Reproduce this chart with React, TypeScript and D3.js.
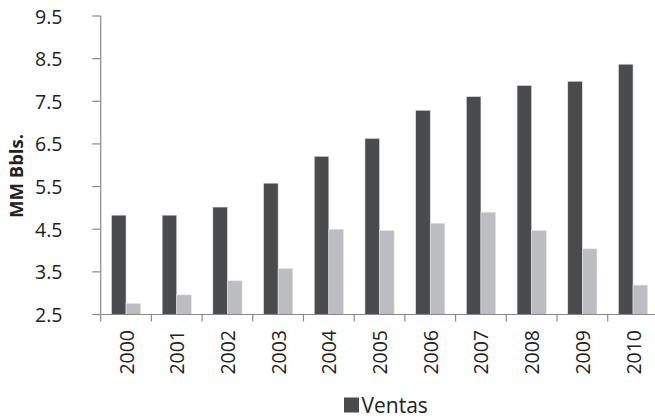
import React from "react";
import * as d3 from "d3";

const years = ["2000", "2001", "2002", "2003", "2004", "2005", "2006", "2007", "2008", "2009", "2010"];
const ventas = [4.83, 4.83, 5.02, 5.58, 6.21, 6.63, 7.29, 7.61, 7.87, 7.97, 8.37];
const otros = [2.76, 2.96, 3.29, 3.58, 4.5, 4.47, 4.64, 4.9, 4.47, 4.04, 3.19];
const yTicks = [2.5, 3.5, 4.5, 5.5, 6.5, 7.5, 8.5, 9.5];
const seriesNames = ["Ventas", "Otros"];
const seriesColors = ["#4a4b4d", "#bcbdc0"];

const W = 655;
const H = 418;
const FONT = "'Open Sans', 'Liberation Sans', sans-serif";

export default function App() {
  const left = 100.7;
  const step = 50.7;
  const x0 = d3.scaleBand<string>().domain(years).range([left, left + step * years.length]).padding(0);
  const x1 = d3
    .scaleBand<string>()
    .domain(seriesNames)
    .range([0, x0.bandwidth()])
    .paddingInner(0)
    .paddingOuter(0.735);
  const y = d3.scaleLinear().domain([2.5, 9.5]).range([314.5, 16]);
  const base = y(2.5);
  const axisColor = "#8a8a8a";
  const data = [ventas, otros];

  return (
    <svg
      width={W}
      height={H}
      style={{ position: "absolute", left: 0, top: 0, background: "#fff" }}
      fontFamily={FONT}
    >
      {/* bars */}
      {years.map((yr, i) => (
        <g key={yr} transform={`translate(${x0(yr)},0)`}>
          {seriesNames.map((s, k) => (
            <rect
              key={s}
              x={x1(s)}
              y={y(data[k][i])}
              width={x1.bandwidth()}
              height={base - y(data[k][i])}
              fill={seriesColors[k]}
              stroke="#e6e6e6"
              strokeWidth={0.6}
            />
          ))}
        </g>
      ))}
      {/* y axis */}
      <line x1={left} x2={left} y1={y(9.5)} y2={base} stroke={axisColor} strokeWidth={1.2} />
      {yTicks.map((t) => (
        <g key={t}>
          <line x1={left - 8.5} x2={left} y1={y(t)} y2={y(t)} stroke={axisColor} strokeWidth={1.2} />
          <text
            x={62.5}
            y={y(t)}
            textAnchor="end"
            dominantBaseline="central"
            fontSize={19.5}
            fill="#222"
          >
            {t.toFixed(1)}
          </text>
        </g>
      ))}
      {/* x axis */}
      <line x1={left} x2={W} y1={base} y2={base} stroke={axisColor} strokeWidth={1.2} />
      {years.map((yr) => (
        <line
          key={"t" + yr}
          x1={x0(yr)!}
          x2={x0(yr)!}
          y1={base}
          y2={base + 7}
          stroke={axisColor}
          strokeWidth={1.2}
        />
      ))}
      {years.map((yr) => {
        const cx = x0(yr)! + x0.bandwidth() / 2;
        return (
          <text
            key={"l" + yr}
            transform={`translate(${cx},330) rotate(-90)`}
            textAnchor="end"
            dominantBaseline="central"
            fontSize={19.5}
            fill="#222"
          >
            {yr}
          </text>
        );
      })}
      {/* y title */}
      <text
        transform={`translate(15,176) rotate(-90)`}
        textAnchor="middle"
        dominantBaseline="central"
        fontSize={18.5}
        fontWeight="bold"
        fill="#222"
      >
        MM Bbls.
      </text>
      {/* legend */}
      <rect x={344} y={397.5} width={15} height={15} fill={seriesColors[0]} />
      <text x={361.5} y={412.5} fontSize={21} fill="#222">
        {seriesNames[0]}
      </text>
    </svg>
  );
}
